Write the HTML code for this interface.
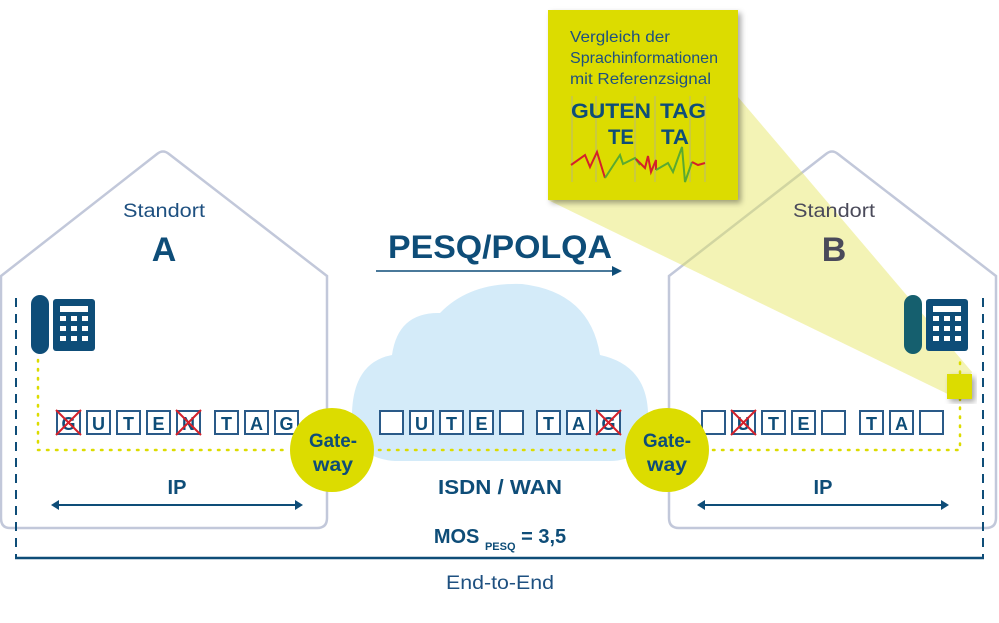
<!DOCTYPE html>
<html><head><meta charset="utf-8"><style>
html,body{margin:0;padding:0;background:#fff}
svg{display:block}
text{font-family:"Liberation Sans",sans-serif}
</style></head><body>
<svg width="999" height="623" viewBox="0 0 999 623" xmlns="http://www.w3.org/2000/svg">
<defs>
<filter id="sh" x="-10%" y="-10%" width="130%" height="130%"><feDropShadow dx="3" dy="3" stdDeviation="3" flood-color="#000" flood-opacity="0.35"/></filter>
</defs>
<path d="M1,276 L157,154 Q163,149 169,154 L327,276 L327,518 Q327,528 317,528 L10,528 Q1,528 1,518 Z" fill="none" stroke="#c2c8da" stroke-width="2.5"/>
<path d="M669,276 L826,154 Q832,149 838,154 L996,276 L996,518 Q996,528 986,528 L679,528 Q669,528 669,518 Z" fill="none" stroke="#c2c8da" stroke-width="2.5"/>
<polygon points="738,97 972,372 958,399 548,200" fill="#e4e45a" opacity="0.45"/>
<path d="M395,461 Q350,458 352,412 Q354,362 392,355 Q398,312 440,313 Q470,282 522,284 Q590,292 600,355 Q646,365 648,412 Q650,461 610,461 Z" fill="#d4ebf9"/>
<line x1="16" y1="298" x2="16" y2="558" stroke="#0e4d78" stroke-width="2" stroke-dasharray="9,7"/>
<line x1="983" y1="298" x2="983" y2="558" stroke="#0e4d78" stroke-width="2" stroke-dasharray="9,7"/>
<line x1="15" y1="558" x2="984" y2="558" stroke="#0e4d78" stroke-width="2.5"/>
<g stroke="#dcdc00" stroke-width="2.5" stroke-dasharray="1.5,7.5" fill="none" stroke-linecap="round">
<polyline points="38,360 38,450 290,450"/>
<line x1="379" y1="450" x2="622" y2="450"/>
<polyline points="713,450 960,450 960,360"/>
</g>
<rect x="31" y="295" width="18" height="59" rx="9" fill="#0e4d78"/>
<rect x="53" y="299" width="42" height="52" rx="3" fill="#0e4d78"/>
<rect x="60" y="306" width="28" height="6" fill="#fff"/>
<g fill="#fff"><rect x="60" y="316" width="6" height="5"/><rect x="71" y="316" width="6" height="5"/><rect x="82" y="316" width="6" height="5"/><rect x="60" y="326" width="6" height="5"/><rect x="71" y="326" width="6" height="5"/><rect x="82" y="326" width="6" height="5"/><rect x="60" y="336" width="6" height="5"/><rect x="71" y="336" width="6" height="5"/><rect x="82" y="336" width="6" height="5"/></g>
<rect x="904" y="295" width="18" height="59" rx="9" fill="#155f6e"/>
<rect x="926" y="299" width="42" height="52" rx="3" fill="#0e4d78"/>
<rect x="933" y="306" width="28" height="6" fill="#fff"/>
<g fill="#fff"><rect x="933" y="316" width="6" height="5"/><rect x="944" y="316" width="6" height="5"/><rect x="955" y="316" width="6" height="5"/><rect x="933" y="326" width="6" height="5"/><rect x="944" y="326" width="6" height="5"/><rect x="955" y="326" width="6" height="5"/><rect x="933" y="336" width="6" height="5"/><rect x="944" y="336" width="6" height="5"/><rect x="955" y="336" width="6" height="5"/></g>
<rect x="947" y="374" width="25" height="25" fill="#dcdc00" filter="url(#sh)"/>
<g fill="#fff" stroke="#2a5a88" stroke-width="2">
<rect x="57" y="411" width="23" height="23"/><rect x="87" y="411" width="23" height="23"/><rect x="117" y="411" width="23" height="23"/><rect x="147" y="411" width="23" height="23"/><rect x="177" y="411" width="23" height="23"/><rect x="215" y="411" width="23" height="23"/><rect x="245" y="411" width="23" height="23"/><rect x="275" y="411" width="23" height="23"/>
<rect x="380" y="411" width="23" height="23"/><rect x="410" y="411" width="23" height="23"/><rect x="440" y="411" width="23" height="23"/><rect x="470" y="411" width="23" height="23"/><rect x="500" y="411" width="23" height="23"/><rect x="537" y="411" width="23" height="23"/><rect x="567" y="411" width="23" height="23"/><rect x="597" y="411" width="23" height="23"/>
<rect x="702" y="411" width="23" height="23"/><rect x="732" y="411" width="23" height="23"/><rect x="762" y="411" width="23" height="23"/><rect x="792" y="411" width="23" height="23"/><rect x="822" y="411" width="23" height="23"/><rect x="860" y="411" width="23" height="23"/><rect x="890" y="411" width="23" height="23"/><rect x="920" y="411" width="23" height="23"/>
</g>
<g font-weight="bold" font-size="18" fill="#0e4d78" text-anchor="middle">
<text x="68.5" y="430">G</text><text x="98.5" y="430">U</text><text x="128.5" y="430">T</text><text x="158.5" y="430">E</text><text x="188.5" y="430">N</text><text x="226.5" y="430">T</text><text x="256.5" y="430">A</text><text x="286.5" y="430">G</text>
<text x="421.5" y="430">U</text><text x="451.5" y="430">T</text><text x="481.5" y="430">E</text><text x="548.5" y="430">T</text><text x="578.5" y="430">A</text><text x="608.5" y="430">G</text>
<text x="743.5" y="430">U</text><text x="773.5" y="430">T</text><text x="803.5" y="430">E</text><text x="871.5" y="430">T</text><text x="901.5" y="430">A</text>
</g>
<g stroke="#d4202a" stroke-width="2">
<path d="M56,410 L81,435 M81,410 L56,435"/><path d="M176,410 L201,435 M201,410 L176,435"/>
<path d="M596,410 L621,435 M621,410 L596,435"/><path d="M731,410 L756,435 M756,410 L731,435"/>
</g>
<circle cx="332" cy="450" r="42" fill="#dcdc00"/>
<circle cx="667" cy="450" r="42" fill="#dcdc00"/>
<g font-weight="bold" font-size="19" fill="#0e4d78" text-anchor="middle">
<text x="333" y="447" textLength="48" lengthAdjust="spacingAndGlyphs">Gate-</text><text x="333" y="471" textLength="40" lengthAdjust="spacingAndGlyphs">way</text>
<text x="667" y="447" textLength="48" lengthAdjust="spacingAndGlyphs">Gate-</text><text x="667" y="471" textLength="40" lengthAdjust="spacingAndGlyphs">way</text>
</g>
<text x="164" y="217" font-size="19" fill="#1e5080" text-anchor="middle" textLength="82" lengthAdjust="spacingAndGlyphs">Standort</text>
<text x="164" y="261" font-size="34" font-weight="bold" fill="#0e4d78" text-anchor="middle">A</text>
<text x="834" y="217" font-size="19" fill="#4a4a5a" text-anchor="middle" textLength="82" lengthAdjust="spacingAndGlyphs">Standort</text>
<text x="834" y="261" font-size="34" font-weight="bold" fill="#4a4a5a" text-anchor="middle">B</text>
<text x="500" y="258" font-size="32" font-weight="bold" fill="#0e4d78" text-anchor="middle" textLength="224" lengthAdjust="spacingAndGlyphs">PESQ/POLQA</text>
<line x1="376" y1="271" x2="614" y2="271" stroke="#0e4d78" stroke-width="1.5"/>
<polygon points="622,271 612,266 612,276" fill="#0e4d78"/>
<g font-weight="bold" fill="#0e4d78" text-anchor="middle">
<text x="177" y="494" font-size="20">IP</text>
<text x="500" y="494" font-size="20" textLength="124" lengthAdjust="spacingAndGlyphs">ISDN / WAN</text>
<text x="823" y="494" font-size="20">IP</text>
</g>
<g stroke="#0e4d78" stroke-width="2"><line x1="56" y1="505" x2="298" y2="505"/><line x1="702" y1="505" x2="944" y2="505"/></g>
<g fill="#0e4d78"><polygon points="51,505 59,500 59,510"/><polygon points="303,505 295,500 295,510"/><polygon points="697,505 705,500 705,510"/><polygon points="949,505 941,500 941,510"/></g>
<text x="500" y="543" font-weight="bold" fill="#0e4d78" text-anchor="middle" font-size="20">MOS <tspan font-size="11" dy="7">PESQ</tspan><tspan dy="-7"> = 3,5</tspan></text>
<text x="500" y="589" font-size="19" fill="#1e5080" text-anchor="middle" textLength="108" lengthAdjust="spacingAndGlyphs">End-to-End</text>
<rect x="548" y="10" width="190" height="190" fill="#dcdc00" filter="url(#sh)"/>
<g font-size="16" fill="#1e5080"><text x="570" y="42" textLength="100" lengthAdjust="spacingAndGlyphs">Vergleich der</text><text x="570" y="63" textLength="148" lengthAdjust="spacingAndGlyphs">Sprachinformationen</text><text x="570" y="84" textLength="141" lengthAdjust="spacingAndGlyphs">mit Referenzsignal</text></g>
<g stroke="#b8b87a" stroke-width="1"><line x1="572" y1="96" x2="572" y2="182"/><line x1="596" y1="96" x2="596" y2="182"/><line x1="635" y1="96" x2="635" y2="182"/><line x1="655" y1="96" x2="655" y2="182"/><line x1="690" y1="96" x2="690" y2="182"/><line x1="705" y1="96" x2="705" y2="182"/></g>
<g font-size="21" font-weight="bold" fill="#0e4d78">
<text x="571" y="118" textLength="80" lengthAdjust="spacingAndGlyphs">GUTEN</text>
<text x="660" y="118" textLength="46" lengthAdjust="spacingAndGlyphs">TAG</text>
<text x="608" y="144" textLength="26" lengthAdjust="spacingAndGlyphs">TE</text>
<text x="661" y="144" textLength="28" lengthAdjust="spacingAndGlyphs">TA</text>
</g>
<polyline points="571,165 585,155 590,167 597,152 605,178" fill="none" stroke="#d4202a" stroke-width="2"/>
<polyline points="605,178 620,155 623,164 635,158 640,165" fill="none" stroke="#5aaa30" stroke-width="2"/>
<polyline points="636,159 645,168 648,156 651,172 656,160 656,170" fill="none" stroke="#d4202a" stroke-width="2"/>
<polyline points="656,170 668,163 673,172 682,147 685,182 692,162" fill="none" stroke="#5aaa30" stroke-width="2"/>
<polyline points="692,162 698,165 705,163" fill="none" stroke="#d4202a" stroke-width="2"/>
</svg>
</body></html>
